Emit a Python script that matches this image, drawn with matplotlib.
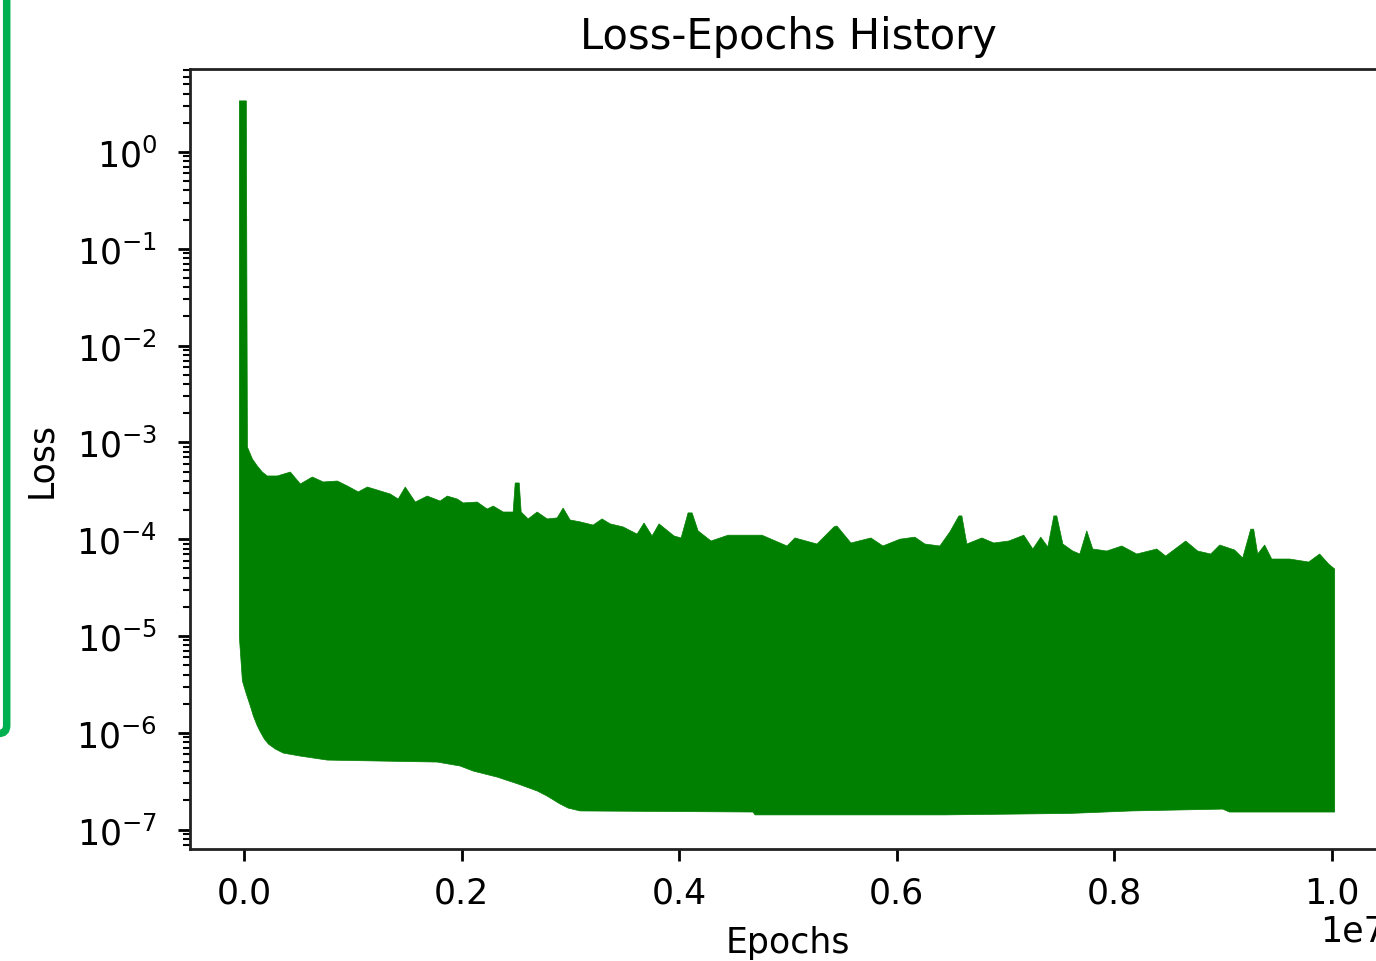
import numpy as np
import matplotlib.pyplot as plt
from matplotlib.patches import FancyBboxPatch
from matplotlib.transforms import IdentityTransform

# upper envelope of the loss trace (epochs in millions, loss)
upper_epochs = [-0.046, 0.018, 0.028, 0.074, 0.119, 0.165, 0.211, 0.303, 0.423, 0.515,
                0.625, 0.726, 0.855, 0.947, 1.048, 1.131, 1.25, 1.342, 1.415, 1.48,
                1.572, 1.682, 1.801, 1.866, 1.958, 2.013, 2.142, 2.233, 2.289, 2.381,
                2.472, 2.491, 2.528, 2.546, 2.61, 2.693, 2.785, 2.877, 2.932, 2.996,
                3.088, 3.208, 3.29, 3.364, 3.483, 3.612, 3.676, 3.75, 3.814, 3.952,
                4.017, 4.081, 4.118, 4.173, 4.292, 4.449, 4.761, 4.991, 5.064, 5.267,
                5.423, 5.45, 5.579, 5.763, 5.873, 6.029, 6.167, 6.259, 6.397, 6.489,
                6.572, 6.599, 6.645, 6.783, 6.893, 7.031, 7.169, 7.252, 7.325, 7.39,
                7.445, 7.472, 7.528, 7.619, 7.684, 7.748, 7.803, 7.932, 8.07, 8.208,
                8.392, 8.474, 8.658, 8.768, 8.888, 8.971, 9.108, 9.182, 9.256, 9.283,
                9.32, 9.384, 9.449, 9.614, 9.789, 9.89, 9.972, 10.028]
upper_loss = [3.37, 3.37, 8.96e-4, 6.74e-4, 5.71e-4, 4.94e-4, 4.50e-4, 4.50e-4, 4.94e-4, 3.72e-4,
              4.39e-4, 3.90e-4, 3.99e-4, 3.55e-4, 3.08e-4, 3.46e-4, 3.15e-4, 2.93e-4, 2.60e-4, 3.46e-4,
              2.42e-4, 2.79e-4, 2.48e-4, 2.79e-4, 2.60e-4, 2.37e-4, 2.42e-4, 2.05e-4, 2.20e-4, 1.91e-4,
              1.91e-4, 3.81e-4, 3.81e-4, 1.91e-4, 1.62e-4, 1.91e-4, 1.62e-4, 1.66e-4, 2.10e-4, 1.58e-4,
              1.51e-4, 1.40e-4, 1.62e-4, 1.44e-4, 1.34e-4, 1.13e-4, 1.47e-4, 1.08e-4, 1.44e-4, 1.08e-4,
              1.03e-4, 1.87e-4, 1.87e-4, 1.22e-4, 9.58e-5, 1.10e-4, 1.10e-4, 8.51e-5, 1.03e-4, 8.92e-5,
              1.34e-4, 1.37e-4, 9.14e-5, 1.03e-4, 8.51e-5, 1.00e-4, 1.05e-4, 8.92e-5, 8.51e-5, 1.19e-4,
              1.74e-4, 1.74e-4, 8.92e-5, 1.03e-4, 9.14e-5, 9.58e-5, 1.10e-4, 7.92e-5, 1.05e-4, 8.31e-5,
              1.74e-4, 1.74e-4, 8.92e-5, 7.55e-5, 7.03e-5, 1.22e-4, 7.92e-5, 7.55e-5, 8.51e-5, 7.03e-5,
              7.92e-5, 6.70e-5, 9.58e-5, 7.55e-5, 7.03e-5, 8.71e-5, 7.73e-5, 6.39e-5, 1.27e-4, 1.27e-4,
              7.03e-5, 8.71e-5, 6.24e-5, 6.24e-5, 5.81e-5, 7.03e-5, 5.55e-5, 4.92e-5]

# lower envelope of the loss trace
lower_epochs = [-0.046, -0.018, 0.018, 0.055, 0.083, 0.119, 0.147, 0.184, 0.221, 0.285,
                0.358, 0.515, 0.763, 1.25, 1.774, 1.985, 2.105, 2.325, 2.518, 2.693,
                2.785, 2.904, 2.978, 3.088, 4.678, 4.697, 6.443, 7.592, 8.162, 8.998,
                9.06, 10.028]
lower_loss = [9.8e-6, 3.43e-6, 2.52e-6, 1.89e-6, 1.49e-6, 1.18e-6, 1.02e-6, 8.63e-7, 7.66e-7, 6.80e-7,
              6.18e-7, 5.75e-7, 5.23e-7, 5.11e-7, 4.99e-7, 4.54e-7, 4.03e-7, 3.49e-7, 2.96e-7, 2.51e-7,
              2.22e-7, 1.84e-7, 1.67e-7, 1.56e-7, 1.52e-7, 1.42e-7, 1.42e-7, 1.47e-7, 1.56e-7, 1.63e-7,
              1.52e-7, 1.52e-7]

s = 2.5  # scale from the original point sizes
plt.rcParams.update({
    "font.size": 10 * s,
    "axes.linewidth": 0.8 * s,
    "axes.edgecolor": "#222222",
    "xtick.major.size": 3.5 * s, "ytick.major.size": 3.5 * s,
    "xtick.major.width": 0.8 * s, "ytick.major.width": 0.8 * s,
    "xtick.minor.size": 2 * s, "ytick.minor.size": 2 * s,
    "xtick.minor.width": 0.6 * s, "ytick.minor.width": 0.6 * s,
    "xtick.major.pad": 10.5, "ytick.major.pad": 15,
})

fig = plt.figure(figsize=(13.76, 9.62), dpi=100)
ax = fig.add_axes([190 / 1376, 1 - 850 / 962, 1196 / 1376, 780 / 962])

xs = np.concatenate([np.array(upper_epochs), np.array(lower_epochs)[::-1]]) * 1e6
ys = np.concatenate([np.array(upper_loss), np.array(lower_loss)[::-1]])
ax.fill(xs, ys, color="green", lw=0.5)

ax.set_yscale("log")
ax.set_xlim(-0.05e7, 1.05e7)
ax.set_ylim(10 ** -7.2, 10 ** 0.857)
ax.set_title("Loss-Epochs History", fontsize=12 * s, pad=6 * s)
ax.set_xlabel("Epochs", labelpad=11)
ax.set_ylabel("Loss", labelpad=13)

# green frame edge from the screenshot on the left
frame = FancyBboxPatch((-60, 227.5), 66.7, 800, boxstyle="round,pad=0,rounding_size=8",
                       transform=IdentityTransform(), fill=False, ec="#00b050", lw=5.4)
fig.add_artist(frame)

fig.savefig("out.png", dpi=100)
